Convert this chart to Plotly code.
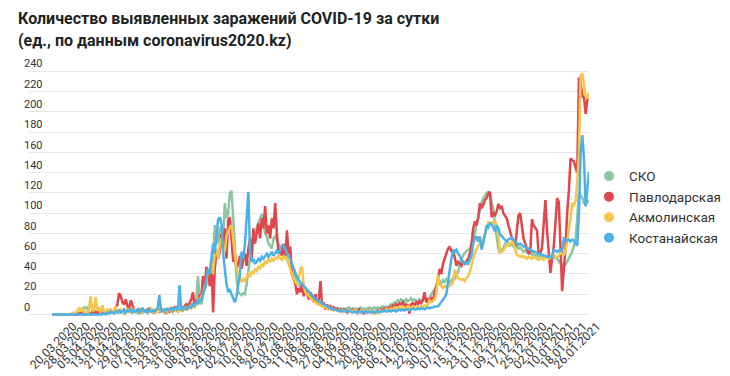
import pandas as pd
import plotly.graph_objects as go

start_date = "2020-03-12"

sko = [
    0,0,0,0,0,0,0,0,0,0,
    0,0,1,0,1,2,1,2,3,7,
    6,7,2,1,3,2,1,2,3,1,
    2,3,1,2,4,2,3,1,2,3,
    2,4,3,1,2,5,3,2,4,3,
    2,3,5,2,4,3,2,4,3,5,
    3,2,4,6,3,5,4,2,5,3,
    4,6,3,5,4,7,5,6,4,8,
    6,9,7,10,8,12,15,38,14,10,
    20,25,30,40,35,55,50,88,80,70,
    85,86,75,110,95,100,120,122,95,60,
    35,22,20,19,21,20,30,45,55,61,
    77,72,86,90,95,99,92,80,77,70,
    68,65,75,77,73,70,66,62,61,57,
    55,50,45,42,40,36,32,30,27,25,
    24,22,20,18,17,16,15,14,12,12,
    11,10,9,9,8,8,7,7,6,6,
    6,5,6,5,6,5,6,7,5,6,
    5,6,5,6,7,5,6,5,6,7,
    6,5,7,6,7,6,7,8,7,8,
    6,8,10,9,12,11,14,13,15,14,
    12,15,13,14,16,13,15,14,12,15,
    13,14,16,15,14,17,20,22,25,28,
    30,33,31,34,32,35,33,31,34,36,
    35,38,42,50,55,58,61,63,64,64,
    70,75,80,90,98,103,110,115,117,120,
    121,118,110,105,89,75,65,61,63,66,
    70,72,70,68,70,67,66,68,65,66,
    64,62,63,61,60,62,59,60,58,59,
    57,58,56,58,57,56,58,57,55,56,
    57,55,52,50,48,50,49,52,55,58,
    62,68,75,95,120,118,115,110,108,112,110,
]

pavlodar = [
    0,0,0,0,0,0,0,0,0,0,
    0,0,0,1,0,1,0,2,1,0,
    1,2,1,0,2,1,3,1,2,1,
    2,1,3,2,1,4,2,3,6,10,
    21,18,12,10,15,8,6,14,9,3,
    4,2,5,3,2,4,3,5,6,3,
    2,4,3,5,2,6,3,4,2,5,
    3,6,4,7,5,3,6,8,5,7,
    10,8,12,15,22,8,14,10,20,18,
    38,25,47,40,28,50,2,45,60,55,
    62,80,65,85,55,93,96,70,52,60,
    45,50,58,45,55,60,48,65,75,55,
    85,70,80,90,75,95,85,107,80,88,
    75,95,85,110,80,60,65,58,70,55,
    83,60,67,40,35,30,20,26,22,30,
    18,26,20,15,22,18,12,20,10,15,
    33,8,12,5,10,6,8,4,7,5,
    6,4,5,3,5,4,2,4,3,5,
    3,4,2,5,3,2,1,3,2,4,
    2,3,1,2,4,3,5,4,6,5,
    5,7,6,9,8,10,9,11,10,12,
    8,10,9,1,10,11,9,12,10,13,
    11,14,22,12,15,13,16,14,20,28,
    35,45,40,50,55,60,65,67,62,64,
    55,48,52,50,48,52,50,53,55,60,
    70,85,92,88,95,110,105,108,113,115,
    119,121,96,100,98,102,109,105,107,100,
    98,95,88,82,75,70,67,80,98,100,
    85,75,70,65,60,62,94,88,86,83,
    60,60,66,90,113,83,60,41,55,67,
    90,115,111,60,23,45,66,100,122,154,
    152,151,145,140,234,229,216,214,198,212,218,
]

akmola = [
    0,0,0,0,0,0,0,0,0,0,
    0,0,1,2,1,4,6,3,7,2,
    3,1,4,18,5,3,17,4,6,2,
    9,3,2,5,3,6,2,4,8,3,
    2,5,3,4,2,6,3,2,5,3,
    4,2,3,5,2,4,3,2,4,6,
    3,5,2,4,3,5,2,6,3,4,
    5,3,6,4,5,3,7,4,6,5,
    7,5,8,6,9,7,10,12,15,18,
    20,28,32,45,40,53,40,60,65,55,
    70,75,68,62,78,82,86,88,75,60,
    45,40,35,32,35,33,37,40,38,42,
    40,45,43,47,45,50,48,52,50,55,
    52,55,53,56,55,58,56,54,58,55,
    57,50,45,40,35,32,30,35,45,47,
    28,22,20,18,16,15,13,12,11,10,
    9,8,8,7,6,6,5,5,4,5,
    4,3,4,3,4,3,3,4,3,4,
    3,4,3,2,3,4,3,2,3,4,
    3,2,1,3,2,3,4,3,4,5,
    4,5,6,5,7,6,5,7,6,8,
    7,6,8,7,6,8,7,6,8,7,
    8,7,9,8,10,14,12,14,15,20,
    39,30,28,26,28,27,29,28,30,32,
    44,40,36,35,34,35,33,36,38,42,
    50,55,61,65,68,70,72,75,78,85,
    91,90,91,90,92,88,77,61,62,63,
    66,70,68,70,72,70,65,59,58,57,
    58,56,57,55,57,56,55,57,56,55,
    54,56,55,54,56,57,55,56,57,58,
    56,57,58,60,62,58,63,72,82,95,
    110,108,112,131,159,236,238,225,216,213,218,
]

kostanay = [
    0,0,0,0,0,0,0,0,0,0,
    0,0,0,0,0,0,0,0,0,0,
    0,0,0,0,0,0,0,0,0,0,
    0,1,0,2,1,3,2,1,3,2,
    4,2,3,5,2,4,3,6,2,4,
    3,5,2,4,6,3,4,2,5,3,
    4,3,5,6,19,4,3,5,4,6,
    5,4,6,5,7,4,29,5,6,7,
    5,6,8,7,10,9,12,11,15,14,
    20,25,35,45,40,55,70,60,75,94,
    96,90,60,45,30,22,25,20,15,12,
    18,30,40,62,55,70,95,121,62,52,
    55,50,52,55,53,57,55,58,60,57,
    60,62,58,61,63,60,65,68,68,65,
    60,57,55,50,45,40,37,34,32,30,
    28,26,24,22,20,18,17,16,14,13,
    12,11,10,9,8,7,6,6,5,5,
    4,4,3,4,3,3,4,3,3,2,
    3,2,3,3,2,3,2,3,2,3,
    2,3,2,3,3,2,3,3,4,3,
    3,4,3,4,4,3,4,5,4,5,
    4,5,5,4,5,6,5,5,6,5,
    6,6,5,6,7,6,7,7,8,8,
    8,10,12,14,17,20,35,44,55,64,
    62,64,60,58,53,52,50,51,50,55,
    58,70,75,77,72,77,64,70,80,88,
    86,90,89,85,82,88,85,79,77,75,
    73,72,74,75,76,74,72,70,69,70,
    68,67,66,66,65,64,63,62,62,61,
    60,60,59,58,58,57,57,57,56,64,
    63,62,63,64,63,75,74,73,74,72,
    74,73,70,68,100,159,177,154,107,125,141,
]

tick_labels = [
    "20.03.2020", "28.03.2020", "05.04.2020", "13.04.2020", "21.04.2020",
    "29.04.2020", "07.05.2020", "15.05.2020", "23.05.2020", "31.05.2020",
    "08.06.2020", "16.06.2020", "24.06.2020", "02.07.2020", "10.07.2020",
    "18.07.2020", "26.07.2020", "03.08.2020", "11.08.2020", "19.08.2020",
    "27.08.2020", "04.09.2020", "12.09.2020", "20.09.2020", "28.09.2020",
    "06.10.2020", "14.10.2020", "22.10.2020", "30.10.2020", "07.11.2020",
    "15.11.2020", "23.11.2020", "01.12.2020", "09.12.2020", "17.12.2020",
    "25.12.2020", "02.01.2021", "10.01.2021", "18.01.2021", "26.01.2021",
]
y_ticks = [0, 20, 40, 60, 80, 100, 120, 140, 160, 180, 200, 220, 240]

series_names = ["СКО", "Павлодарская", "Акмолинская", "Костанайская"]
series_colors = ["#8cc5a0", "#e0474c", "#f5c64b", "#4cb1e6"]
series_values = [sko, pavlodar, akmola, kostanay]

n = len(sko)
dates = pd.date_range(start_date, periods=n, freq="D")
tick_vals = [pd.to_datetime(t, format="%d.%m.%Y") for t in tick_labels]

fig = go.Figure()
for name, color, vals in zip(series_names, series_colors, series_values):
    fig.add_trace(go.Scatter(
        x=dates, y=vals, mode="lines", name=name,
        line=dict(color=color, width=2.5), showlegend=False,
        hoverinfo="skip",
    ))
for name, color in zip(series_names, series_colors):
    fig.add_trace(go.Scatter(
        x=[None], y=[None], mode="markers", name=name,
        marker=dict(color=color, size=10, symbol="circle"),
        showlegend=True,
    ))

x_start = pd.Timestamp(start_date) - pd.Timedelta(days=13.69)
x_end = dates[-1]

top_m = 37.5
fig.update_layout(
    width=730, height=376,
    margin=dict(l=21, r=124, t=top_m, b=56.5),
    plot_bgcolor="white", paper_bgcolor="white",
    font=dict(family="Roboto", color="#333333"),
    legend=dict(
        x=1.0, xanchor="left", xref="paper",
        y=0.4025, yanchor="middle",
        font=dict(size=13.5, color="#333333", family="Roboto"),
        itemclick=False, itemdoubleclick=False,
        bgcolor="rgba(0,0,0,0)",
    ),
    xaxis=dict(
        type="date",
        range=[x_start, x_end],
        tickvals=tick_vals,
        ticktext=tick_labels,
        tickangle=-45,
        ticklabelshift=8,
        tickfont=dict(size=12, color="#333333", family="Roboto"),
        showgrid=False, zeroline=False, showline=False,
        ticks="",
    ),
    yaxis=dict(
        range=[-1.5, 265],
        tickvals=y_ticks,
        ticklabelposition="inside top",
        ticklabelstandoff=-8,
        tickfont=dict(size=11, color="#333333", family="Roboto"),
        showgrid=True, gridcolor="#e6e6e6", gridwidth=1,
        zeroline=False, showline=False, ticks="",
    ),
    annotations=[
        dict(text="<b>Количество выявленных заражений COVID-19 за сутки</b>",
             xref="paper", yref="paper", x=0, y=1, xshift=-13,
             yshift=top_m - 9.5, xanchor="left", yanchor="middle", showarrow=False,
             font=dict(size=16, color="#222222", family="Roboto")),
        dict(text="<b>(ед., по данным coronavirus2020.kz)</b>",
             xref="paper", yref="paper", x=0, y=1, xshift=-13,
             yshift=top_m - 31.5, xanchor="left", yanchor="middle", showarrow=False,
             font=dict(size=16, color="#222222", family="Roboto")),
    ],
)

fig.write_html("out.html")
